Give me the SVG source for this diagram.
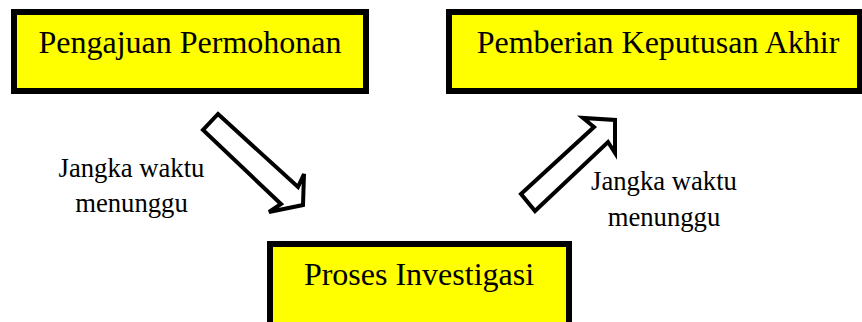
<svg xmlns="http://www.w3.org/2000/svg" width="862" height="322" viewBox="0 0 862 322">
<style>
.box{fill:#ffff00;stroke:#000;stroke-width:6}
.big{font-family:'Liberation Serif','Times New Roman',Times,serif;font-size:32px;fill:#000;text-anchor:middle}
.lbl{font-family:'Liberation Serif','Times New Roman',Times,serif;font-size:26.67px;fill:#000;text-anchor:middle}
.arr{fill:#fff;stroke:#000;stroke-width:4;stroke-linejoin:miter}
</style>
<rect width="862" height="322" fill="#fff"/>
<g id="connectors">
<polygon class="arr" points="218,114 298,187 304,174 303,205 269,212 281,204 203,130"/>
<polygon class="arr" points="521,194 594,127 583,118 615,120 615,153 608,142 535,211"/>
<text class="lbl" font-family="Liberation Serif, serif" x="131.5" y="177">Jangka waktu</text>
<text class="lbl" font-family="Liberation Serif, serif" x="131.5" y="212">menunggu</text>
<text class="lbl" font-family="Liberation Serif, serif" x="664" y="190">Jangka waktu</text>
<text class="lbl" font-family="Liberation Serif, serif" x="664" y="225.5">menunggu</text>
</g>
<g id="node-pengajuan">
<rect class="box" x="14" y="12" width="352" height="79"/>
<text class="big" font-family="Liberation Serif, serif" x="190" y="53">Pengajuan Permohonan</text>
</g>
<g id="node-pemberian">
<rect class="box" x="449" y="12" width="411" height="79"/>
<text class="big" font-family="Liberation Serif, serif" x="658" y="53">Pemberian Keputusan Akhir</text>
</g>
<g id="node-proses">
<rect class="box" x="270" y="244" width="299" height="90"/>
<text class="big" font-family="Liberation Serif, serif" x="419" y="285">Proses Investigasi</text>
</g>
</svg>
